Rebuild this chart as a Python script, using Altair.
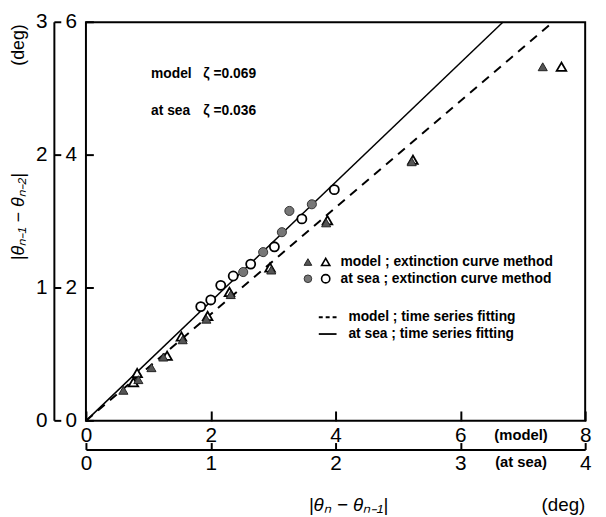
import altair as alt
import pandas as pd

FONT = "Liberation Sans"

# ---- model : extinction curve method (triangles), model units (deg) ----
tri_open_x = [0.76, 0.82, 1.30, 1.53, 1.95, 2.30, 2.95, 3.87, 5.24, 7.62]
tri_open_y = [0.58, 0.72, 0.98, 1.27, 1.58, 1.94, 2.31, 3.02, 3.93, 5.33]
tri_fill_x = [0.60, 0.84, 1.05, 1.24, 1.55, 1.93, 2.32, 2.97, 3.85, 5.22, 7.32]
tri_fill_y = [0.46, 0.62, 0.80, 0.96, 1.22, 1.53, 1.90, 2.27, 2.98, 3.90, 5.33]

# ---- at sea : extinction curve method (circles), at-sea units (deg) ----
circ_open_x = [0.92, 1.00, 1.08, 1.18, 1.32, 1.51, 1.73, 1.99]
circ_open_y = [0.86, 0.91, 1.02, 1.09, 1.18, 1.31, 1.52, 1.74]
circ_fill_x = [1.26, 1.42, 1.57, 1.63, 1.81]
circ_fill_y = [1.12, 1.27, 1.42, 1.58, 1.63]

# ---- time series fitting lines ----
model_fit_x = [0.0, 7.48]
model_fit_y = [0.0, 6.0]
sea_fit_x = [0.0, 3.34]
sea_fit_y = [0.0, 3.0]

# ---- axes ----
model_x_ticks = [0, 2, 4, 6, 8]
model_y_ticks = [0, 2, 4, 6]
sea_x_ticks = [0, 1, 2, 3, 4]
sea_y_ticks = [0, 1, 2, 3]

MX = alt.Scale(domain=[0, 8], nice=False, zero=False)
MY = alt.Scale(domain=[0, 6], nice=False, zero=False)
SX = alt.Scale(domain=[0, 4], nice=False, zero=False)
SY = alt.Scale(domain=[0, 3], nice=False, zero=False)

lab = dict(labelFont=FONT, labelFontSize=21, labelColor="black", labelFlush=False,
           labelOverlap=False, grid=False, title=None, tickColor="black", tickWidth=2)

# model x axis (inner, ticks pointing into the plot)
ax_mx = alt.Axis(orient="bottom", values=model_x_ticks, offset=-10, tickSize=10,
                 domain=False, labelPadding=4, **lab)
# at-sea x axis (outer)
ax_sx = alt.Axis(orient="bottom", values=sea_x_ticks, offset=22, tickSize=7,
                 domain=False, labelPadding=3, **lab)
ax_sx_line = alt.Axis(orient="bottom", offset=29, domain=True, domainColor="black",
                      domainWidth=2, ticks=False, labels=False, grid=False, title=None)

dashed = alt.Chart(pd.DataFrame({"x": model_fit_x, "y": model_fit_y})).mark_line(
    color="black", strokeWidth=2, strokeDash=[9, 7]
).encode(x=alt.X("x:Q", scale=MX, axis=ax_mx), y=alt.Y("y:Q", scale=MY, axis=None))

solid = alt.Chart(pd.DataFrame({"x": sea_fit_x, "y": sea_fit_y})).mark_line(
    color="black", strokeWidth=1.5
).encode(x=alt.X("x:Q", scale=SX, axis=ax_sx), y=alt.Y("y:Q", scale=SY, axis=None))

tri_open = alt.Chart(pd.DataFrame({"x": tri_open_x, "y": tri_open_y})).mark_point(
    shape="triangle-up", size=95, fill="white", stroke="black", strokeWidth=1.8, opacity=1
).encode(x=alt.X("x:Q", scale=MX, axis=None), y=alt.Y("y:Q", scale=MY, axis=None))

tri_fill = alt.Chart(pd.DataFrame({"x": tri_fill_x, "y": tri_fill_y})).mark_point(
    shape="triangle-up", size=85, fill="#555555", stroke="#222222", strokeWidth=1,
    filled=True, opacity=1
).encode(x=alt.X("x:Q", scale=MX, axis=None), y=alt.Y("y:Q", scale=MY, axis=None))

circ_open = alt.Chart(pd.DataFrame({"x": circ_open_x, "y": circ_open_y})).mark_point(
    shape="circle", size=85, fill="white", stroke="black", strokeWidth=1.8, opacity=1
).encode(x=alt.X("x:Q", scale=SX, axis=ax_sx_line), y=alt.Y("y:Q", scale=SY, axis=None))

circ_fill = alt.Chart(pd.DataFrame({"x": circ_fill_x, "y": circ_fill_y})).mark_point(
    shape="circle", size=85, fill="#777777", stroke="#333333", strokeWidth=1,
    filled=True, opacity=1
).encode(x=alt.X("x:Q", scale=SX, axis=None), y=alt.Y("y:Q", scale=SY, axis=None))

# ---- left axes drawn from the tick arrays through the y scales ----
my_df = pd.DataFrame({"v": model_y_ticks})
sy_df = pd.DataFrame({"v": sea_y_ticks})

my_labels = alt.Chart(my_df).mark_text(
    font=FONT, fontSize=21, align="right", baseline="middle", color="black"
).encode(y=alt.Y("v:Q", scale=MY, axis=None), x=alt.value(-9), text="v:Q")
my_ticks = alt.Chart(my_df).mark_rule(color="black", strokeWidth=2).encode(
    y=alt.Y("v:Q", scale=MY, axis=None), x=alt.value(0), x2=alt.value(8))

sy_labels = alt.Chart(sy_df).mark_text(
    font=FONT, fontSize=21, align="right", baseline="middle", color="black"
).encode(y=alt.Y("v:Q", scale=SY, axis=None), x=alt.value(-39), text="v:Q")
sy_ticks = alt.Chart(sy_df).mark_rule(color="black", strokeWidth=2).encode(
    y=alt.Y("v:Q", scale=SY, axis=None), x=alt.value(-32), x2=alt.value(-25))
sy_line = alt.Chart(pd.DataFrame({"a": [min(sea_y_ticks)], "b": [max(sea_y_ticks)]})).mark_rule(
    color="black", strokeWidth=2
).encode(y=alt.Y("a:Q", scale=SY, axis=None), y2="b:Q", x=alt.value(-32))

one = pd.DataFrame({"k": [0]})


def txt(s, x, y, size=14, weight="bold", align="left", angle=0, style="normal"):
    kw = dict(font=FONT, fontSize=size, fontWeight=weight, align=align,
              baseline="middle", color="black", fontStyle=style)
    if angle:
        kw["angle"] = angle
    return alt.Chart(one).mark_text(**kw).encode(
        x=alt.value(x), y=alt.value(y), text=alt.value(s))


def sym(shape, x, y, fill, stroke, sw, size):
    return alt.Chart(one).mark_point(shape=shape, size=size, fill=fill, stroke=stroke,
                                     strokeWidth=sw, opacity=1, filled=True).encode(
        x=alt.value(x), y=alt.value(y))


def seg(x1, x2, y, dash=None, sw=1.5):
    kw = dict(color="black", strokeWidth=sw)
    if dash:
        kw["strokeDash"] = dash
    return alt.Chart(one).mark_rule(**kw).encode(
        x=alt.value(x1), x2=alt.value(x2), y=alt.value(y))


# plot-area origin is at page (87, 19)
texts = [
    txt("model", 66, 52), txt("ζ =0.069", 119, 52),
    txt("at sea", 66, 90), txt("ζ =0.036", 119, 90),
    # legend
    sym("triangle-up", 225, 243, "#555555", "#222222", 1, 60),
    sym("triangle-up", 243, 243, "white", "black", 1.6, 70),
    txt("model ; extinction curve method", 258, 243),
    sym("circle", 225, 260, "#777777", "#333333", 1, 60),
    sym("circle", 243, 260, "white", "black", 1.6, 70),
    txt("at sea ; extinction curve method", 258, 260),
    seg(236, 254, 299, dash=[4, 3], sw=1.8),
    txt("model ; time series fitting", 266, 299),
    seg(236, 254, 316, sw=1.8),
    txt("at sea ; time series fitting", 266, 316),
    # axis annotations
    txt("(model)", 441, 418, size=15, align="center"),
    txt("(at sea)", 441, 446, size=15, align="center"),
    txt("|θₙ − θₙ₋₁|", 266, 489, size=19, weight="normal", align="center", style="italic"),
    txt("(deg)", 484, 489, size=19, weight="normal", align="center"),
    txt("|θₙ₋₁ − θₙ₋₂|", -68, 197, size=18, weight="normal", align="center",
        angle=270, style="italic"),
    txt("(deg)", -68, 23, size=18, weight="normal", align="center", angle=270),
]

chart = alt.layer(
    dashed, solid, my_ticks, my_labels, sy_line, sy_ticks, sy_labels,
    circ_open, circ_fill, tri_open, tri_fill, *texts
).resolve_scale(
    x="independent", y="independent"
).resolve_axis(
    x="independent", y="independent"
).properties(
    width=506, height=404,
    padding={"left": 79, "top": 11, "right": 13, "bottom": 94},
    autosize=alt.AutoSizeParams(type="none"),
    background="white",
).configure_view(stroke="black", strokeWidth=2)

chart.save("out.html", embed_options={"renderer": "svg", "actions": False})
